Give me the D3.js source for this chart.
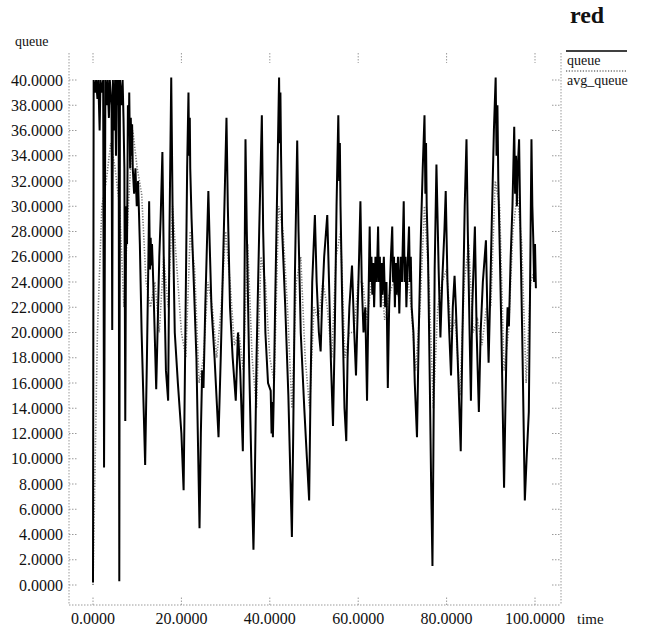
<!DOCTYPE html>
<html>
<head>
<meta charset="utf-8">
<script src="https://cdn.jsdelivr.net/npm/d3@7"></script>
<style>
  body { margin: 0; background: #fff; }
  svg text { font-family: "Liberation Serif", "DejaVu Serif", serif; fill: #111; }
</style>
</head>
<body>
<div id="chart"></div>
<script>
// queue length, [time, queue]
const queuePoints = [
  [0, 0.2], [0.15, 40], [0.5, 39], [0.7, 40], [1.0, 38.5], [1.2, 40], [1.5, 36], [1.7, 40], [2.0, 39], [2.3, 40],
  [2.5, 9.3], [2.6, 18], [2.8, 40], [3.1, 38], [3.3, 40], [3.6, 37], [3.8, 40], [4.2, 38], [4.35, 20.2], [4.5, 40],
  [4.8, 36], [5.0, 40], [5.2, 34], [5.4, 40], [5.6, 38], [5.8, 40], [5.95, 0.3], [6.1, 40], [6.4, 38], [6.7, 40],
  [6.9, 37], [7.1, 33], [7.3, 13], [7.5, 30], [7.7, 27], [7.9, 38], [8.1, 36], [8.2, 39], [8.4, 33], [8.55, 37],
  [8.7, 34], [8.85, 36.5], [9.0, 33], [9.3, 31], [9.6, 33], [9.9, 30], [10.2, 32], [10.6, 27], [11.0, 20], [11.8, 9.5],
  [12.2, 18], [12.5, 25], [12.7, 30.4], [12.9, 25], [13.05, 27.5], [13.2, 25.3], [13.35, 27], [13.5, 25.5], [13.8, 22], [14.3, 15.5],
  [14.6, 20], [15.0, 26], [15.3, 29], [15.7, 34.3], [16.0, 26], [16.5, 17], [17.0, 14.6], [17.3, 28], [17.7, 40.2], [18.0, 30],
  [18.5, 20], [19.2, 16], [20.0, 12], [20.5, 7.5], [20.9, 20], [21.3, 33], [21.6, 39], [21.75, 34], [21.9, 37], [22.0, 33],
  [22.3, 29], [22.8, 24], [23.4, 18], [24.1, 4.5], [24.4, 12], [24.7, 17], [25.0, 15.6], [25.4, 22], [26.1, 31.2], [26.4, 27],
  [26.8, 22], [27.5, 18], [28.4, 11.7], [28.9, 18], [29.6, 28], [30.2, 37], [30.5, 30], [31.0, 22], [31.6, 18], [32.3, 14.6],
  [32.8, 20], [33.3, 17], [33.9, 10.6], [34.2, 20], [34.5, 35.3], [34.8, 28], [35.3, 18], [35.8, 10], [36.3, 2.8], [36.6, 8],
  [37.0, 18], [37.6, 28], [38.2, 37.2], [38.5, 28], [39.0, 20], [39.6, 16], [40.2, 15.4], [40.4, 12], [40.55, 14.5], [40.7, 11.7],
  [40.9, 15], [41.2, 22], [41.7, 32], [42.1, 40.2], [42.25, 35], [42.4, 39], [42.55, 34], [42.8, 28], [43.5, 22], [44.2, 15],
  [44.7, 8], [45.0, 3.8], [45.3, 12], [45.7, 25], [46.2, 35.2], [46.5, 28], [47.0, 20], [47.8, 14], [48.4, 10], [48.9, 6.7],
  [49.2, 15], [49.6, 24], [50.2, 29.3], [50.6, 24], [51.1, 20], [51.5, 18.5], [51.8, 22], [52.3, 26], [53.0, 29.3], [53.4, 24],
  [53.8, 18], [54.3, 12.6], [54.7, 20], [55.1, 30], [55.5, 37.2], [55.7, 32], [55.85, 35], [56.0, 30], [56.4, 22], [56.9, 14],
  [57.3, 11.4], [57.6, 18], [58.0, 22], [58.6, 25.3], [59.0, 21], [59.5, 16.6], [59.9, 22], [60.2, 26], [60.5, 30.4], [60.8, 24],
  [61.2, 20], [61.6, 22], [62.0, 14.6], [62.3, 22], [62.6, 28.4], [62.8, 24], [63.0, 26], [63.2, 23], [63.4, 25.5], [63.6, 22],
  [63.9, 26], [64.2, 24], [64.5, 28.4], [64.7, 24], [64.9, 26], [65.1, 22], [65.3, 25.5], [65.5, 23], [65.8, 26], [66.1, 22],
  [66.4, 24], [66.7, 15.6], [67.0, 22], [67.4, 26], [67.7, 28.4], [67.9, 24], [68.1, 26], [68.3, 22], [68.5, 25.5], [68.7, 23],
  [69.0, 26], [69.3, 21.5], [69.6, 26], [69.9, 24], [70.3, 30.4], [70.5, 24], [70.7, 26], [70.9, 22], [71.2, 25.5], [71.5, 28.4],
  [71.7, 24], [71.9, 26], [72.1, 22], [72.5, 20], [72.8, 16], [73.3, 11.7], [73.7, 20], [74.2, 28], [74.6, 33], [75.0, 37.2],
  [75.2, 31], [75.35, 35], [75.5, 30], [75.8, 26], [76.2, 16], [76.5, 8], [76.8, 1.5], [77.0, 10], [77.3, 25], [77.7, 33.3],
  [77.9, 30], [78.2, 25], [78.6, 19.6], [79.0, 24], [79.5, 28], [79.8, 31.2], [80.2, 24], [80.6, 20], [81.0, 16.6], [81.4, 22],
  [81.8, 24.5], [82.1, 22], [82.5, 18], [83.2, 10.6], [83.6, 20], [84.1, 30], [84.5, 35.3], [84.8, 28], [85.2, 20], [85.5, 14.6],
  [85.8, 22], [86.4, 28.4], [86.8, 20], [87.3, 13.7], [87.7, 20], [88.2, 24], [88.9, 27.3], [89.2, 22], [89.5, 17.6], [89.8, 22],
  [90.3, 30], [90.7, 36], [91.1, 40.2], [91.3, 34], [91.5, 38], [91.7, 32], [92.0, 27], [92.4, 20], [93.0, 7.7], [93.3, 14],
  [93.6, 19.7], [93.8, 22], [94.1, 20.5], [94.5, 26], [94.9, 30], [95.3, 36.3], [95.5, 31], [95.7, 34], [95.9, 30], [96.1, 33],
  [96.4, 35.3], [96.7, 28], [97.1, 20], [97.7, 6.7], [98.1, 10], [98.6, 13.7], [98.9, 24], [99.2, 35.3], [99.4, 30], [99.6, 27.5],
  [99.8, 24], [100.0, 27], [100.2, 23.5]
]

// averaged queue, one reading per time unit
const avgTime = d3.range(0, 101)
const avgValue = [0, 20, 30, 32, 35, 33, 30, 22, 30, 36, 33, 31, 24, 22, 24, 20, 26, 22, 30, 25,
  20, 18, 28, 25, 16, 18, 24, 22, 18, 22, 28, 24, 19, 20, 17, 27, 18, 14, 26, 24,
  18, 16, 30, 28, 22, 14, 24, 26, 18, 14, 22, 21, 24, 22, 18, 26, 28, 18, 20, 20,
  24, 24, 21, 24, 24, 25, 21, 23, 24, 23, 25, 25, 22, 17, 22, 30, 24, 14, 22, 24,
  25, 20, 21, 15, 24, 27, 20, 21, 19, 22, 22, 32, 30, 17, 20, 28, 31, 27, 16, 24, 25]

const xTicks = [0, 20, 40, 60, 80, 100]
const yTicks = d3.range(0, 41, 2)
const seriesNames = ['queue', 'avg_queue']

const width = 649, height = 633
const svg = d3.select('#chart').append('svg')
  .attr('width', width).attr('height', height)

const x = d3.scaleLinear().domain([0, 100]).range([93, 535])
const y = d3.scaleLinear().domain([0, 40]).range([585, 80])

const frameLeft = 69, frameRight = 561, frameTop = 53, frameBottom = 605
const axisColour = '#9a9a9a'
const gAxes = svg.append('g')
  .style('stroke', axisColour).style('stroke-width', 1)
  .style('stroke-dasharray', '1.5,1.5').style('fill', 'none')

// frame: left, right and bottom only
gAxes.append('line').attr('x1', frameLeft).attr('x2', frameLeft).attr('y1', frameTop).attr('y2', frameBottom)
gAxes.append('line').attr('x1', frameRight).attr('x2', frameRight).attr('y1', frameTop).attr('y2', frameBottom)
gAxes.append('line').attr('x1', frameLeft).attr('x2', frameRight).attr('y1', frameBottom).attr('y2', frameBottom)

// y ticks on both sides
gAxes.selectAll('.ytl').data(yTicks).join('line').classed('ytl', true)
  .attr('x1', frameLeft).attr('x2', frameLeft + 9)
  .attr('y1', d => y(d)).attr('y2', d => y(d))
gAxes.selectAll('.ytr').data(yTicks).join('line').classed('ytr', true)
  .attr('x1', frameRight - 9).attr('x2', frameRight)
  .attr('y1', d => y(d)).attr('y2', d => y(d))

// x ticks top and bottom
gAxes.selectAll('.xtb').data(xTicks).join('line').classed('xtb', true)
  .attr('x1', d => x(d)).attr('x2', d => x(d))
  .attr('y1', frameBottom).attr('y2', frameBottom - 9)
gAxes.selectAll('.xtt').data(xTicks).join('line').classed('xtt', true)
  .attr('x1', d => x(d)).attr('x2', d => x(d))
  .attr('y1', frameTop).attr('y2', frameTop + 10)

const fmt = d3.format('.4f')
svg.append('g').selectAll('text').data(yTicks).join('text')
  .attr('x', 63).attr('y', d => y(d)).attr('dy', '0.35em')
  .attr('text-anchor', 'end').style('font-size', '16px')
  .text(d => fmt(d))

svg.append('g').selectAll('text').data(xTicks).join('text')
  .attr('x', d => x(d)).attr('y', 624)
  .attr('text-anchor', 'middle').style('font-size', '16px')
  .text(d => fmt(d))

svg.append('text').attr('x', 15).attr('y', 46).style('font-size', '14px').text('queue')
svg.append('text').attr('x', 577).attr('y', 624).style('font-size', '15px').text('time')
svg.append('text').attr('x', 570).attr('y', 23)
  .style('font-size', '24px').style('font-weight', 'bold').text('red')

// series
const line = d3.line().x(d => x(d[0])).y(d => y(d[1]))
const avgData = avgTime.map((t, i) => [t, avgValue[i]])

svg.append('path').datum(avgData)
  .attr('d', line)
  .style('fill', 'none').style('stroke', '#777')
  .style('stroke-width', 1.6).style('stroke-dasharray', '1.2,1.6')

svg.append('path').datum(queuePoints)
  .attr('d', line)
  .style('fill', 'none').style('stroke', '#000')
  .style('stroke-width', 2).style('stroke-linejoin', 'miter')

// legend
const gLegend = svg.append('g')
gLegend.append('line').attr('x1', 566).attr('x2', 627).attr('y1', 51).attr('y2', 51)
  .style('stroke', '#000').style('stroke-width', 1.6)
gLegend.append('line').attr('x1', 566).attr('x2', 627).attr('y1', 71).attr('y2', 71)
  .style('stroke', '#777').style('stroke-width', 1.6).style('stroke-dasharray', '1.2,1.6')
gLegend.selectAll('text').data(seriesNames).join('text')
  .attr('x', 567).attr('y', (d, i) => 65 + i * 20)
  .style('font-size', '14px')
  .text(d => d)
</script>
</body>
</html>
